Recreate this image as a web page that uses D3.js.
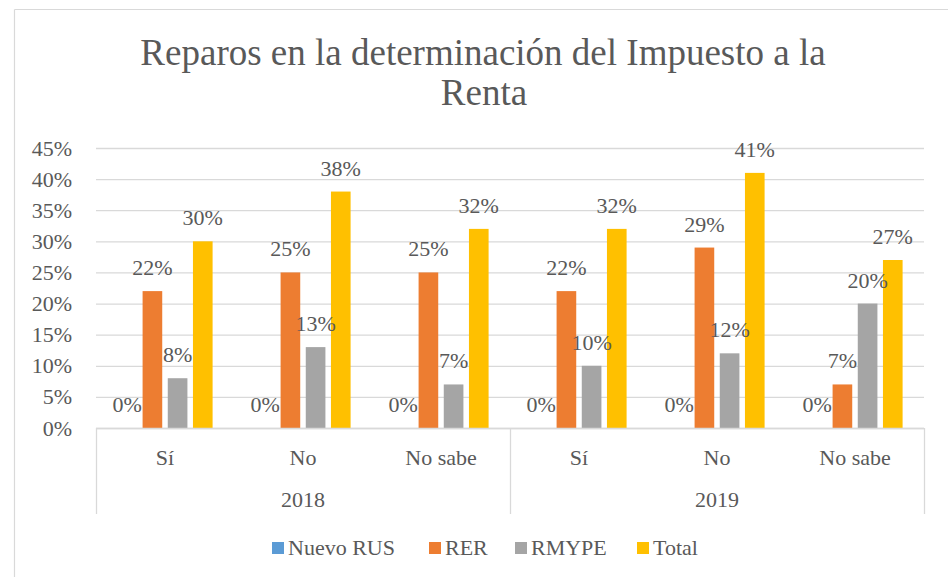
<!DOCTYPE html>
<html>
<head>
<meta charset="utf-8">
<script src="https://cdn.jsdelivr.net/npm/d3@7"></script>
<style>
  body { margin: 0; background: #fff; }
  svg text { font-family: 'Liberation Serif', 'Times New Roman', Times, 'DejaVu Serif', serif !important; fill: #595959; }
</style>
</head>
<body>
<svg id="chart" width="948" height="577"></svg>
<script>
const years = ['2018', '2019'];
const answers = ['Sí', 'No', 'No sabe'];
const seriesNames = ['Nuevo RUS', 'RER', 'RMYPE', 'Total'];
const seriesColors = ['#5B9BD5', '#ED7D31', '#A5A5A5', '#FFC000'];
// values per category (year x answer), one array per series
const nuevoRus = [0, 0, 0, 0, 0, 0];
const rer = [22, 25, 25, 22, 29, 7];
const rmype = [8, 13, 7, 10, 12, 20];
const total = [30, 38, 32, 32, 41, 27];
const yTicks = [0, 5, 10, 15, 20, 25, 30, 35, 40, 45];

const seriesValues = [nuevoRus, rer, rmype, total];
const categories = [];
years.forEach(y => answers.forEach(a => categories.push({ year: y, answer: a, key: y + '|' + a })));

const svg = d3.select('#chart');
const grid = '#D9D9D9';

// chart border (top and left edges visible)
svg.append('line').attr('x1', 14.5).attr('x2', 948).attr('y1', 9.5).attr('y2', 9.5)
  .attr('stroke', grid).attr('stroke-width', 1.2);
svg.append('line').attr('x1', 14.5).attr('x2', 14.5).attr('y1', 9.5).attr('y2', 577)
  .attr('stroke', grid).attr('stroke-width', 1.2);

// title
svg.append('text').attr('x', 483).attr('y', 65).attr('text-anchor', 'middle')
  .style('font-size', '37px').text('Reparos en la determinación del Impuesto a la');
svg.append('text').attr('x', 484).attr('y', 105).attr('text-anchor', 'middle')
  .style('font-size', '37px').text('Renta');

const plotLeft = 96, plotRight = 924, plotTop = 148, plotBottom = 428;

const x = d3.scaleBand().domain(categories.map(d => d.key)).range([plotLeft, plotRight]).padding(0);
const xs = d3.scaleBand().domain(seriesNames).range([0, x.bandwidth()])
  .paddingInner(0.22).paddingOuter(0.85);
const y = d3.scaleLinear().domain([0, 45]).range([plotBottom, plotTop]);

// gridlines
svg.append('g').selectAll('line').data(yTicks).join('line')
  .attr('x1', plotLeft).attr('x2', plotRight)
  .attr('y1', d => y(d) + 0.5).attr('y2', d => y(d) + 0.5)
  .attr('stroke', grid).attr('stroke-width', 1.3);

// y axis labels
const yAxis = d3.axisLeft(y).tickValues(yTicks).tickFormat(d => d + '%').tickSize(0).tickPadding(0);
const ya = svg.append('g').attr('transform', 'translate(72,0)').call(yAxis).attr('font-family', null);
ya.select('.domain').remove();
ya.selectAll('text').style('font-size', '22px').attr('fill', '#595959');

// bars
categories.forEach((c, ci) => {
  const g = svg.append('g').attr('transform', `translate(${x(c.key)},0)`);
  g.selectAll('rect').data(seriesNames.map((s, si) => ({ s, v: seriesValues[si][ci], color: seriesColors[si] })))
    .join('rect')
    .attr('x', d => xs(d.s)).attr('width', xs.bandwidth())
    .attr('y', d => y(d.v)).attr('height', d => y(0) - y(d.v))
    .attr('fill', d => d.color);
  g.selectAll('text').data(seriesNames.map((s, si) => ({ s, v: seriesValues[si][ci] })))
    .join('text')
    .attr('x', d => xs(d.s) + xs.bandwidth() / 2)
    .attr('y', d => y(d.v) - 16)
    .attr('text-anchor', 'middle')
    .style('font-size', '22px')
    .text(d => d.v + '%');
});

// category axis
svg.append('line').attr('x1', plotLeft).attr('x2', plotRight).attr('y1', plotBottom + 0.5).attr('y2', plotBottom + 0.5)
  .attr('stroke', grid).attr('stroke-width', 1.3);
const groupEdges = [plotLeft, x(years[1] + '|' + answers[0]), plotRight];
svg.append('g').selectAll('line').data(groupEdges).join('line')
  .attr('x1', d => d + 0.5).attr('x2', d => d + 0.5)
  .attr('y1', plotBottom).attr('y2', 514)
  .attr('stroke', grid).attr('stroke-width', 1.3);

svg.append('g').selectAll('text').data(categories).join('text')
  .attr('x', d => x(d.key) + x.bandwidth() / 2).attr('y', 465)
  .attr('text-anchor', 'middle').style('font-size', '22px')
  .text(d => d.answer);

svg.append('g').selectAll('text').data(years).join('text')
  .attr('x', d => x(d + '|' + answers[1]) + x.bandwidth() / 2).attr('y', 507)
  .attr('text-anchor', 'middle').style('font-size', '22px')
  .text(d => d);

// legend
const legendX = [272, 429, 515, 637];
const lg = svg.append('g').selectAll('g').data(seriesNames).join('g')
  .attr('transform', (d, i) => `translate(${legendX[i]},542)`);
lg.append('rect').attr('width', 12).attr('height', 12).attr('fill', (d, i) => seriesColors[i]);
lg.append('text').attr('x', 16).attr('y', 13).style('font-size', '22px').text(d => d);
</script>
</body>
</html>
